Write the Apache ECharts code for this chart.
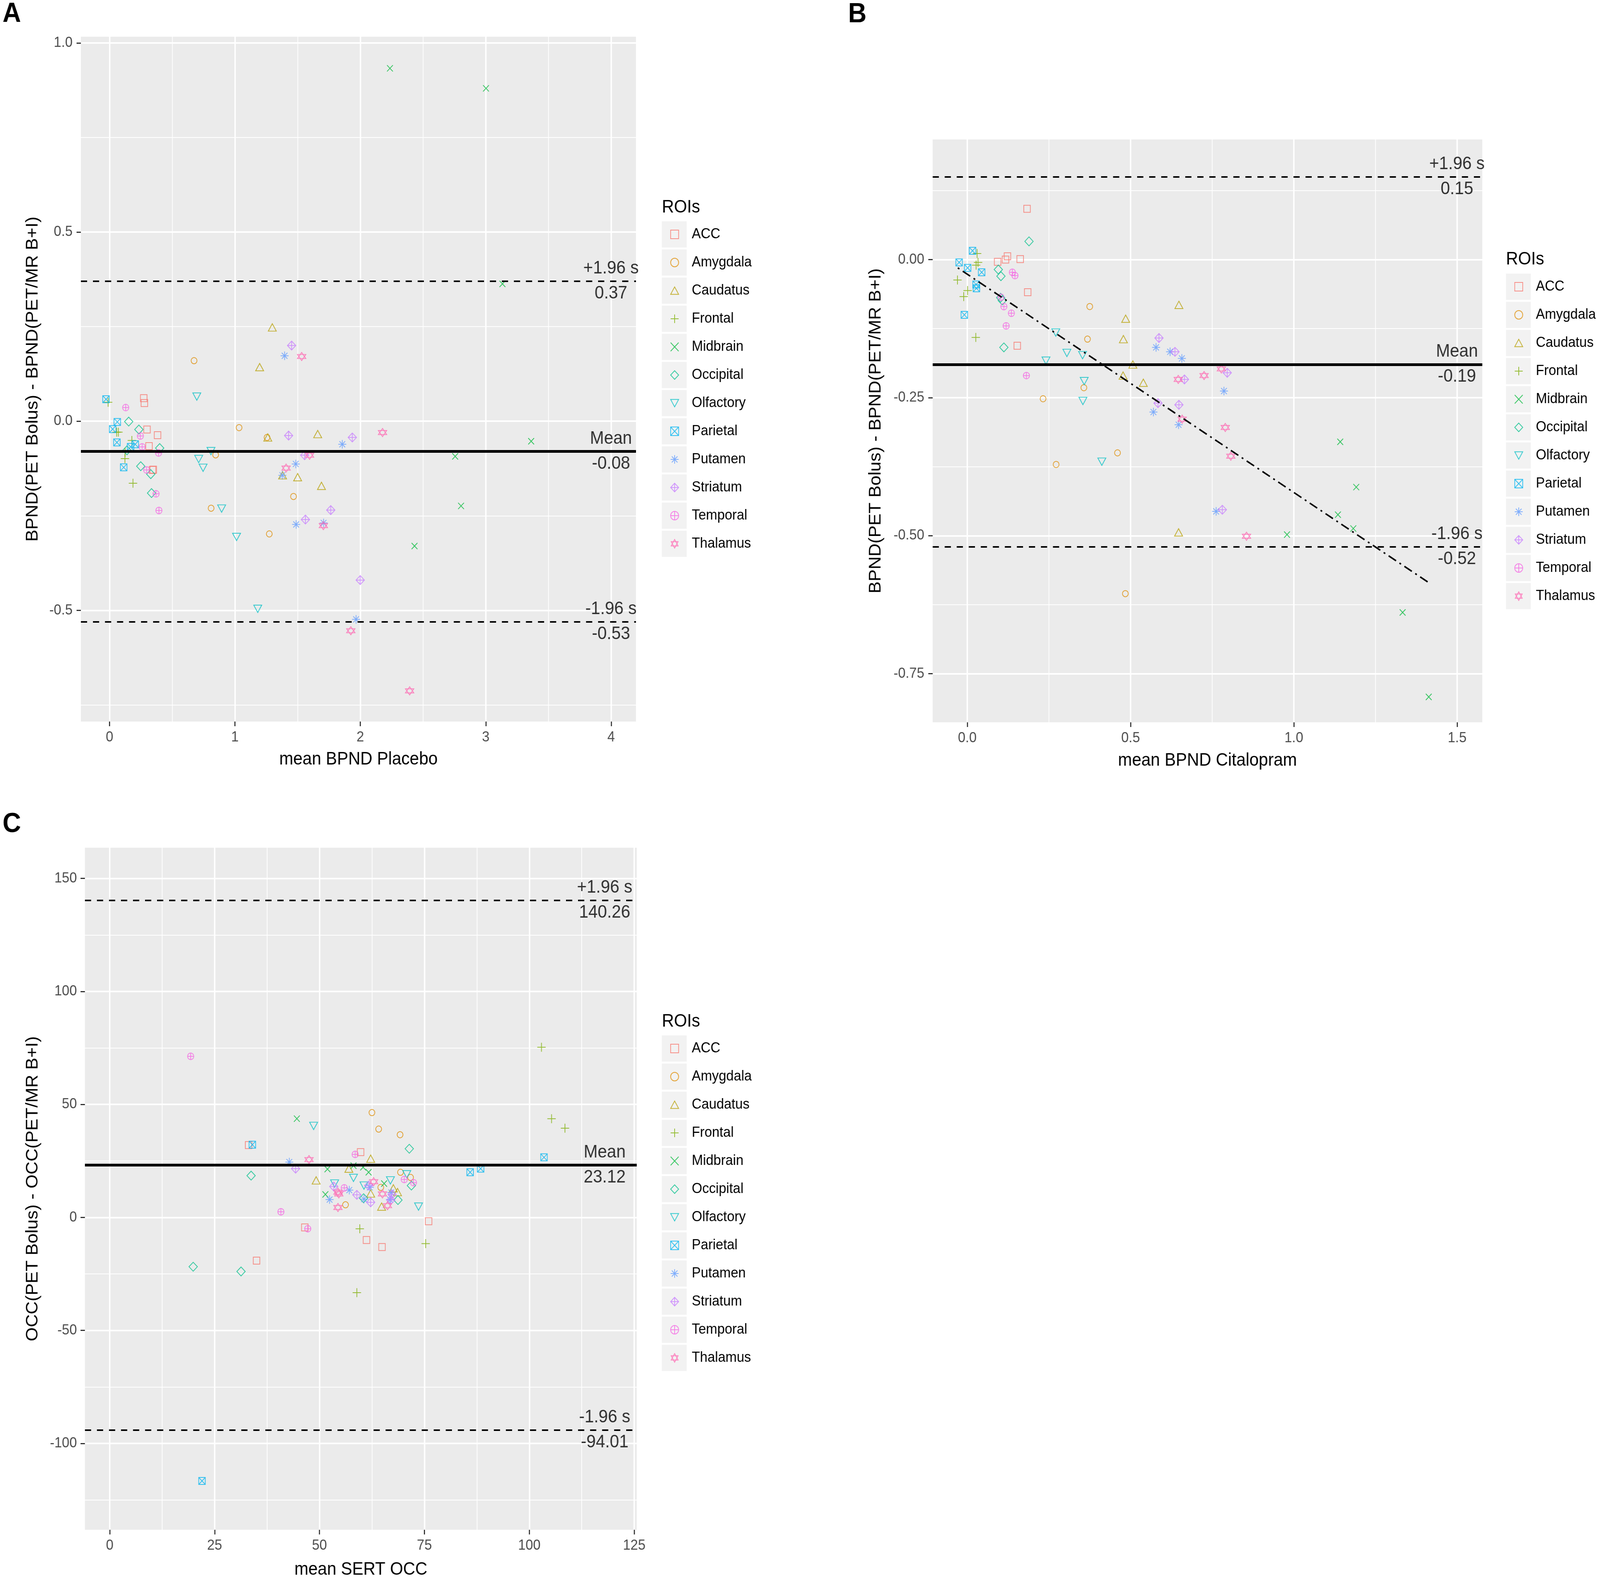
<!DOCTYPE html>
<html>
<head>
<meta charset="utf-8">
<script src="https://cdn.jsdelivr.net/npm/echarts@6/dist/echarts.min.js"></script>
<style>
html, body { margin: 0; padding: 0; background: #fff; overflow: hidden; }
#main { width: 4390px; height: 4042px; transform-origin: 0 0; }
</style>
</head>
<body>
<div id="main"></div>
<script>
var FONT = 'Liberation Sans, Arial, sans-serif';

var rois = ['ACC', 'Amygdala', 'Caudatus', 'Frontal', 'Midbrain', 'Occipital',
  'Olfactory', 'Parietal', 'Putamen', 'Striatum', 'Temporal', 'Thalamus'];
var roiColors = ['#F8766D', '#DE8C00', '#B79F00', '#7CAE00', '#00BA38', '#00C08B',
  '#00BFC4', '#00B4F0', '#619CFF', '#C77CFF', '#F564E3', '#FF64B0'];

// panel A: mean BPND Placebo vs difference
var a_ACC = [[0.273, 0.061], [0.278, 0.048], [0.299, -0.022], [0.383, -0.037], [0.315, -0.066], [0.349, -0.128], [0.343, -0.129]];
var a_Amygdala = [[0.674, 0.16], [1.033, -0.017], [0.846, -0.089], [0.81, -0.23], [1.274, -0.298], [1.467, -0.199], [1.256, -0.043]];
var a_Caudatus = [[1.298, 0.248], [1.197, 0.143], [1.262, -0.043], [1.66, -0.034], [1.5, -0.148], [1.69, -0.171], [1.38, -0.143]];
var a_Frontal = [[-0.011, 0.05], [0.057, -0.029], [0.071, -0.029], [0.178, -0.051], [0.124, -0.082], [0.123, -0.099], [0.187, -0.164]];
var a_Midbrain = [[2.236, 0.933], [3.002, 0.88], [3.133, 0.363], [3.362, -0.053], [2.756, -0.093], [2.803, -0.224], [2.432, -0.33]];
var a_Occipital = [[0.153, -0.001], [0.234, -0.022], [0.4, -0.071], [0.139, -0.077], [0.249, -0.119], [0.329, -0.14], [0.335, -0.19]];
var a_Olfactory = [[0.696, 0.065], [0.809, -0.079], [0.711, -0.1], [0.746, -0.123], [0.894, -0.231], [1.013, -0.306], [1.182, -0.496]];
var a_Parietal = [[-0.028, 0.058], [0.062, -0.002], [0.025, -0.021], [0.059, -0.056], [0.205, -0.061], [0.168, -0.068], [0.113, -0.122]];
var a_Putamen = [[1.396, 0.173], [1.856, -0.061], [1.485, -0.113], [1.378, -0.143], [1.488, -0.273], [1.707, -0.269], [1.966, -0.524]];
var a_Striatum = [[1.452, 0.2], [1.428, -0.038], [1.936, -0.043], [1.556, -0.09], [1.764, -0.235], [1.562, -0.26], [1.999, -0.42]];
var a_Temporal = [[0.129, 0.036], [0.246, -0.039], [0.26, -0.068], [0.391, -0.084], [0.296, -0.129], [0.371, -0.192], [0.394, -0.236]];
var a_Thalamus = [[1.532, 0.171], [2.177, -0.03], [1.595, -0.09], [1.408, -0.124], [1.705, -0.276], [1.924, -0.554], [2.393, -0.713]];
var limitsA = [0.37, -0.08, -0.53];

// panel B: mean BPND Citalopram vs difference
var b_ACC = [[0.183, 0.092], [0.123, 0.006], [0.117, 0], [0.093, -0.004], [0.162, 0.001], [0.185, -0.059], [0.153, -0.156]];
var b_Amygdala = [[0.375, -0.085], [0.368, -0.144], [0.357, -0.232], [0.232, -0.252], [0.46, -0.35], [0.272, -0.371], [0.484, -0.605]];
var b_Caudatus = [[0.648, -0.082], [0.485, -0.107], [0.478, -0.144], [0.507, -0.19], [0.477, -0.21], [0.539, -0.223], [0.647, -0.494]];
var b_Frontal = [[0.03, 0.011], [0.027, -0.01], [-0.03, -0.037], [0.001, -0.056], [-0.011, -0.067], [0.026, -0.141], [0.033, -0.005]];
var b_Midbrain = [[1.142, -0.33], [1.191, -0.412], [1.135, -0.462], [1.182, -0.487], [0.979, -0.498], [1.333, -0.639], [1.413, -0.792]];
var b_Occipital = [[0.189, 0.033], [0.095, -0.018], [0.103, -0.03], [0.102, -0.069], [0.107, -0.074], [0.112, -0.159]];
var b_Olfactory = [[0.271, -0.132], [0.305, -0.169], [0.353, -0.173], [0.241, -0.183], [0.358, -0.22], [0.354, -0.256], [0.412, -0.366]];
var b_Parietal = [[0.016, 0.016], [-0.025, -0.005], [0.001, -0.015], [0.044, -0.023], [0.027, -0.045], [0.028, -0.052], [-0.009, -0.1]];
var b_Putamen = [[0.578, -0.159], [0.621, -0.167], [0.657, -0.179], [0.786, -0.238], [0.57, -0.276], [0.647, -0.299], [0.762, -0.456]];
var b_Striatum = [[0.587, -0.142], [0.636, -0.167], [0.796, -0.205], [0.665, -0.217], [0.584, -0.26], [0.648, -0.263], [0.781, -0.453]];
var b_Temporal = [[0.138, -0.023], [0.146, -0.029], [0.103, -0.068], [0.112, -0.085], [0.135, -0.097], [0.119, -0.12], [0.181, -0.21]];
var b_Thalamus = [[0.778, -0.198], [0.725, -0.21], [0.646, -0.217], [0.658, -0.289], [0.79, -0.304], [0.807, -0.356], [0.855, -0.501]];
var limitsB = [0.15, -0.19, -0.52];
var regB = [[-0.029, -0.015], [1.413, -0.585]];

// panel C: mean SERT OCC vs difference
var c_ACC = [[33.1, 32.0], [59.8, 28.9], [46.5, -4.4], [76.0, -1.7], [61.2, -10.0], [64.9, -13.1], [35.0, -19.1]];
var c_Amygdala = [[62.5, 46.4], [64.1, 39.1], [69.2, 36.6], [69.3, 20.0], [71.7, 17.7], [64.6, 13.3], [56.2, 5.6]];
var c_Caudatus = [[62.2, 26.0], [57.0, 21.6], [49.2, 16.4], [67.6, 12.9], [68.6, 11.2], [62.2, 10.6], [64.8, 4.8]];
var c_Frontal = [[102.9, 75.3], [105.3, 43.7], [108.5, 39.5], [59.6, -5.0], [75.3, -11.6], [58.9, -33.3]];
var c_Midbrain = [[44.6, 43.7], [51.9, 21.4], [60.4, 22.2], [61.7, 20.0], [51.4, 10.2], [65.4, 15.0], [58.1, 22.9]];
var c_Occipital = [[71.4, 30.4], [33.7, 18.5], [71.9, 14.1], [68.7, 7.7], [60.5, 8.5], [19.9, -21.8], [31.3, -23.9]];
var c_Olfactory = [[48.6, 40.5], [58.1, 17.5], [66.9, 16.4], [70.8, 19.1], [53.6, 15.0], [60.6, 14.1], [73.6, 4.8]];
var c_Parietal = [[34.0, 32.2], [103.5, 26.6], [85.9, 20.0], [88.4, 21.6], [22.0, -116.6]];
var c_Putamen = [[42.8, 24.5], [57.1, 12.1], [52.4, 7.9], [60.6, 8.1], [62.0, 13.3], [67.1, 11.0], [66.8, 7.9]];
var c_Striatum = [[44.3, 21.6], [53.4, 13.7], [58.9, 10.0], [62.2, 6.7], [67.3, 10.2], [61.7, 14.1], [67.0, 7.7]];
var c_Temporal = [[19.3, 71.3], [58.5, 27.9], [55.9, 13.1], [40.8, 2.5], [47.2, -5.0], [70.2, 16.8], [72.4, 15.4]];
var c_Thalamus = [[47.5, 25.6], [62.9, 15.8], [54.4, 11.2], [54.6, 10.4], [65.0, 10.4], [54.4, 4.4], [66.2, 5.2]];
var limitsC = [140.26, 23.12, -94.01];

var limitNames = ['+1.96 s', 'Mean', '-1.96 s'];

// tick values
var xTicksA = [0, 1, 2, 3, 4], xMinorA = [0.5, 1.5, 2.5, 3.5];
var yTicksA = [-0.5, 0, 0.5, 1.0], yMinorA = [-0.75, -0.25, 0.25, 0.75];
var xTicksB = [0, 0.5, 1.0, 1.5], xMinorB = [0.25, 0.75, 1.25];
var yTicksB = [-0.75, -0.5, -0.25, 0], yMinorB = [-0.625, -0.375, -0.125, 0.125];
var xTicksC = [0, 25, 50, 75, 100, 125], xMinorC = [12.5, 37.5, 62.5, 87.5, 112.5];
var yTicksC = [-100, -50, 0, 50, 100, 150], yMinorC = [-125, -75, -25, 25, 75, 125];

var panelA = [a_ACC, a_Amygdala, a_Caudatus, a_Frontal, a_Midbrain, a_Occipital, a_Olfactory, a_Parietal, a_Putamen, a_Striatum, a_Temporal, a_Thalamus];
var panelB = [b_ACC, b_Amygdala, b_Caudatus, b_Frontal, b_Midbrain, b_Occipital, b_Olfactory, b_Parietal, b_Putamen, b_Striatum, b_Temporal, b_Thalamus];
var panelC = [c_ACC, c_Amygdala, c_Caudatus, c_Frontal, c_Midbrain, c_Occipital, c_Olfactory, c_Parietal, c_Putamen, c_Striatum, c_Temporal, c_Thalamus];

// ggplot shapes 0..11
var roiSymbols = [
  'path://M-1,-1L1,-1L1,1L-1,1Z',
  'circle',
  'path://M0,-1L0.866,0.5L-0.866,0.5Z',
  'path://M0,-1L0,1M-1,0L1,0',
  'path://M-1,-1L1,1M-1,1L1,-1',
  'path://M0,-1L1,0L0,1L-1,0Z',
  'path://M-0.866,-0.5L0.866,-0.5L0,1Z',
  'path://M-1,-1L1,-1L1,1L-1,1ZM-1,-1L1,1M-1,1L1,-1',
  'path://M0,-1L0,1M-1,0L1,0M-0.707,-0.707L0.707,0.707M-0.707,0.707L0.707,-0.707',
  'path://M0,-1L1,0L0,1L-1,0ZM0,-1L0,1M-1,0L1,0',
  'path://M-1,0A1,1,0,1,0,1,0A1,1,0,1,0,-1,0ZM0,-1L0,1M-1,0L1,0',
  'path://M0,-1L0.866,0.5L-0.866,0.5ZM0,1L0.866,-0.5L-0.866,-0.5Z'
];
var roiSizes = [18, 16, [22, 19], 23, 16, 23, [22, 19], 18, 22, 23, 17, [23, 21]];

// the layout is drawn on a 4390 x 4042 page; if the window is smaller, fit it in
var mainEl = document.getElementById('main');
var sx = Math.min(1, window.innerWidth / 4390), sy = Math.min(1, window.innerHeight / 4042);
if (sx < 1 || sy < 1) mainEl.style.transform = 'scale(' + sx + ',' + sy + ')';

function roiSeries(list, g) {
  return rois.map(function (name, i) {
    return {
      type: 'scatter', name: name, xAxisIndex: 2 * g, yAxisIndex: 2 * g,
      data: list[i], symbol: roiSymbols[i], symbolSize: roiSizes[i],
      itemStyle: { color: 'rgba(0,0,0,0)', borderColor: roiColors[i], borderWidth: 2 },
      emphasis: { disabled: true }, z: 2
    };
  });
}

function limitSeries(limits, g, labelX) {
  var items = [];
  limits.forEach(function (v, k) {
    items.push({ name: limitNames[k], value: [labelX, v], label: { position: [0, -32] } });
    items.push({ name: v.toFixed(2), value: [labelX, v], label: { position: [0, 32] } });
  });
  return {
    type: 'scatter', xAxisIndex: 2 * g, yAxisIndex: 2 * g, data: items,
    symbolSize: 1, itemStyle: { color: 'rgba(0,0,0,0)' }, silent: true, z: 4,
    label: { show: true, formatter: '{b}', fontSize: 46, color: '#000', fontFamily: FONT, align: 'center', verticalAlign: 'middle' },
    markLine: {
      silent: true, symbol: ['none', 'none'], label: { show: false }, animation: false,
      data: limits.map(function (v, k) {
        return { yAxis: v, lineStyle: k === 1 ? { color: '#000', width: 7, type: 'solid' } : { color: '#000', width: 4, type: [17, 16] } };
      })
    }
  };
}

function majorAxis(dim, g, min, max, ticks, dec, name, gap, labelMargin) {
  return {
    type: 'value', gridIndex: g, min: min, max: max, position: dim === 'x' ? 'bottom' : 'left',
    name: name, nameLocation: 'middle', nameGap: gap,
    nameTextStyle: { fontSize: 46, color: '#000', fontFamily: FONT },
    axisLine: { show: false, onZero: false },
    axisTick: { show: true, length: 12, lineStyle: { color: '#333', width: 3 }, customValues: ticks },
    axisLabel: { customValues: ticks, margin: labelMargin, fontSize: 37, color: '#4D4D4D', fontFamily: FONT,
      formatter: function (v) { return v.toFixed(dec); } },
    splitLine: { show: true, lineStyle: { color: '#fff', width: 4 } }
  };
}
function minorAxis(dim, g, min, max, ticks) {
  return {
    type: 'value', gridIndex: g, min: min, max: max, position: dim === 'x' ? 'top' : 'right',
    axisLine: { show: false, onZero: false }, axisTick: { show: false, customValues: ticks },
    axisLabel: { show: false, customValues: ticks },
    splitLine: { show: true, lineStyle: { color: '#fff', width: 2 } }
  };
}

function roiLegend(left, top) {
  return {
    data: rois, orient: 'vertical', left: left, top: top, padding: 0,
    itemWidth: 22, itemHeight: 22, itemGap: 32, selectedMode: false,
    textStyle: { fontSize: 37, color: '#000', fontFamily: FONT, lineHeight: 40, padding: [0, 0, 0, 31] }
  };
}

function keyBoxes(left, firstCenter) {
  return rois.map(function (r, i) {
    return { type: 'rect', left: left, top: firstCenter + i * 72 - 33.5, z: -1,
      shape: { width: 68, height: 67 }, style: { fill: '#F2F2F2' } };
  });
}
function label(text, x, y, size, weight) {
  return { type: 'text', x: x, y: y, z: 10,
    style: { text: text, fill: '#000', font: (weight || 'normal') + ' ' + size + 'px ' + FONT,
      verticalAlign: 'middle', textVerticalAlign: 'middle', align: 'left', textAlign: 'left' } };
}
function grid(left, top, width, height) {
  return { left: left, top: top, width: width, height: height, show: true, backgroundColor: '#EBEBEB', borderWidth: 0 };
}

var chart = echarts.init(mainEl);
var option = {
  animation: false,
  backgroundColor: '#fff',
  grid: [grid(222, 94, 1523, 1753), grid(2559, 357, 1508, 1492), grid(233, 2170, 1514, 1753)],
  xAxis: [
    majorAxis('x', 0, -0.228, 4.198, xTicksA, 0, 'mean BPND Placebo', 74, 22),
    minorAxis('x', 0, -0.228, 4.198, xMinorA),
    majorAxis('x', 1, -0.106, 1.577, xTicksB, 1, 'mean BPND Citalopram', 75, 22),
    minorAxis('x', 1, -0.106, 1.577, xMinorB),
    majorAxis('x', 2, -5.9, 125.6, xTicksC, 0, 'mean SERT OCC', 79, 22),
    minorAxis('x', 2, -5.9, 125.6, xMinorC)
  ],
  yAxis: [
    majorAxis('y', 0, -0.794, 1.0165, yTicksA, 1, 'BPND(PET Bolus) - BPND(PET/MR B+I)', 109, 23),
    minorAxis('y', 0, -0.794, 1.0165, yMinorA),
    majorAxis('y', 1, -0.838, 0.2176, yTicksB, 2, 'BPND(PET Bolus) - BPND(PET/MR B+I)', 133, 23),
    minorAxis('y', 1, -0.838, 0.2176, yMinorB),
    majorAxis('y', 2, -138.2, 163.6, yTicksC, 0, 'OCC(PET Bolus) - OCC(PET/MR B+I)', 120, 22),
    minorAxis('y', 2, -138.2, 163.6, yMinorC)
  ],
  legend: [roiLegend(1839, 580), roiLegend(4155, 714), roiLegend(1839, 2664)],
  graphic: [].concat(
    keyBoxes(1816, 600), keyBoxes(4132, 734), keyBoxes(1816, 2684),
    [label('ROIs', 1816, 531, 46), label('ROIs', 4132, 664, 46), label('ROIs', 1816, 2615, 46),
     label('A', 7, 37, 70, 'bold'), label('B', 2327, 38, 70, 'bold'), label('C', 7, 2111, 70, 'bold')]
  ),
  series: [].concat(
    roiSeries(panelA, 0), roiSeries(panelB, 1), roiSeries(panelC, 2),
    [limitSeries(limitsA, 0, 4), limitSeries(limitsB, 1, 1.5), limitSeries(limitsC, 2, 118),
     { type: 'line', xAxisIndex: 2, yAxisIndex: 2, data: regB, symbol: 'none', silent: true, z: 3,
       lineStyle: { color: '#000', width: 4, type: [5, 11, 24, 11] } }]
  )
};
chart.setOption(option);
</script>
</body>
</html>
